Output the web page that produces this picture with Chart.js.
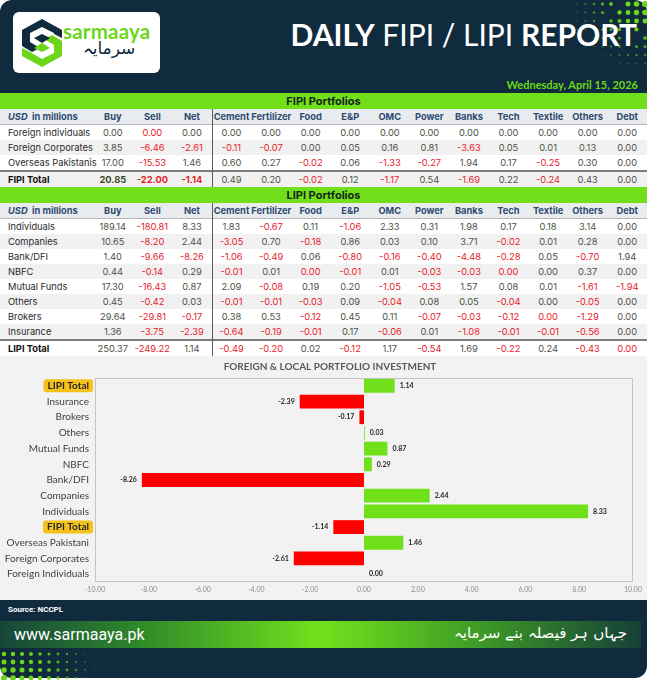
<!DOCTYPE html>
<html>
<head>
<meta charset="utf-8">
<script src="https://cdn.jsdelivr.net/npm/chart.js@4.4.1/dist/chart.umd.min.js"></script>
<style>
  html,body{margin:0;padding:0;background:#fff;}
  #wrap{position:relative;width:647px;height:680px;overflow:hidden;background:#fff;font-family:Inter,Roboto,sans-serif;}
  .abs{position:absolute;}
  #head{left:0;top:0;width:647px;height:93px;background:#0f2b3d;border-radius:12px 12px 0 0;}
  #foot{left:0;top:600px;width:647px;height:78px;background:#0f2b3d;border-radius:0 0 12px 12px;}
  .row{position:absolute;left:0;width:647px;}
  .cell{position:absolute;text-align:center;font-size:9.3px;white-space:nowrap;}
  .lbl{position:absolute;left:8px;font-size:9.3px;color:#2a2a2a;white-space:nowrap;}
  .green{position:absolute;left:0;width:647px;background:#71e01b;text-align:center;font-weight:bold;font-size:11px;color:#16251a;}
</style>
</head>
<body>
<div id="wrap">
  <div id="head" class="abs"></div>
  <svg class="abs" style="left:0;top:0" width="647" height="93" id="dots"></svg>
  <div class="abs" style="left:13px;top:12px;width:147px;height:61px;background:#fff;border-radius:6px;"></div>
  <svg class="abs" style="left:20px;top:18px" width="44" height="50" viewBox="0 0 44 50">
    <polygon points="22,1 42,12 42,20 34,16 34,15 22,9 10,15 10,24 20,30 12,34 2,28 2,12" fill="#0f2b3d"/>
    <polygon points="22,49 2,38 2,30 10,34 22,41 34,35 34,27 24,21 32,17 42,23 42,38" fill="#6cd61a"/>
    <polygon points="14,20 22,16 30,20 22,25" fill="#0f2b3d"/>
    <polygon points="14,30 22,25 30,30 22,34" fill="#6cd61a"/>
  </svg>
  <div class="abs" style="left:63px;top:19px;font-family:Lato,sans-serif;font-size:20.5px;font-weight:bold;color:#6cd61a;letter-spacing:0.2px;">sarmaaya</div>
  <div class="abs" style="left:66px;top:38px;font-family:'DejaVu Sans',sans-serif;font-size:17px;color:#0f2b3d;direction:rtl;width:86px;text-align:center;">سرمایہ</div>
  <div class="abs" style="right:10px;top:16px;font-family:Lato,sans-serif;font-size:30px;color:#fff;white-space:nowrap;"><b>DAILY</b> FIPI / LIPI <b>REPORT</b></div>
  <div class="abs" style="right:9px;top:78px;font-family:Lato,sans-serif;font-size:11px;font-weight:bold;color:#6cd61a;">Wednesday, April 15, 2026</div>

  <div id="tables"></div>

  <div class="abs" style="left:0;top:356px;width:647px;height:244px;background:#f2f2f2;"></div>
  <canvas id="c" class="abs" style="left:0;top:356px;" width="647" height="244"></canvas>

  <div id="foot" class="abs"></div>
  <div class="abs" style="left:0;top:621px;width:641px;height:27px;background:linear-gradient(90deg,#17463a 0%,#2f8a2a 22%,#72e21c 50%,#3d9a26 75%,#163f38 100%);"></div>
  <div class="abs" style="left:8px;top:605px;font-family:Roboto,sans-serif;font-size:8px;font-weight:bold;color:#fff;">Source: NCCPL</div>
  <div class="abs" style="left:14px;top:625px;font-family:Roboto,sans-serif;font-size:16px;color:#fff;">www.sarmaaya.pk</div>
  <div class="abs" style="left:480px;top:624px;width:147px;font-family:'DejaVu Sans',sans-serif;font-size:15px;color:#fff;direction:rtl;text-align:left;white-space:nowrap;">جہاں ہر فیصلہ بنے سرمایہ</div>
  <svg class="abs" style="left:0;top:650px" width="140" height="30" id="dots2"></svg>
</div>

<script>
// ---------- DATA ----------
const columns = ["Buy","Sell","Net","Cement","Fertilizer","Food","E&P","OMC","Power","Banks","Tech","Textile","Others","Debt"];

const fipiNames = ["Foreign individuals","Foreign Corporates","Overseas Pakistanis","FIPI Total"];
const fipiBuy  = [0.00, 3.85, 17.00, 20.85];
const fipiSell = [-0, -6.46, -15.53, -22.00];
const fipiNet  = [0.00, -2.61, 1.46, -1.14];
const fipiSectors = [
  [0.00, 0.00, 0.00, 0.00, 0.00, 0.00, 0.00, 0.00, 0.00, 0.00, 0.00],
  [-0.11, -0.07, 0.00, 0.05, 0.16, 0.81, -3.63, 0.05, 0.01, 0.13, 0.00],
  [0.60, 0.27, -0.02, 0.06, -1.33, -0.27, 1.94, 0.17, -0.25, 0.30, 0.00],
  [0.49, 0.20, -0.02, 0.12, -1.17, 0.54, -1.69, 0.22, -0.24, 0.43, 0.00]
];

const lipiNames = ["Individuals","Companies","Bank/DFI","NBFC","Mutual Funds","Others","Brokers","Insurance","LIPI Total"];
const lipiBuy  = [189.14, 10.65, 1.40, 0.44, 17.30, 0.45, 29.64, 1.36, 250.37];
const lipiSell = [-180.81, -8.20, -9.66, -0.14, -16.43, -0.42, -29.81, -3.75, -249.22];
const lipiNet  = [8.33, 2.44, -8.26, 0.29, 0.87, 0.03, -0.17, -2.39, 1.14];
const lipiSectors = [
  [1.83, -0.67, 0.11, -1.06, 2.33, 0.31, 1.98, 0.17, 0.18, 3.14, 0.00],
  [-3.05, 0.70, -0.18, 0.86, 0.03, 0.10, 3.71, -0.02, 0.01, 0.28, 0.00],
  [-1.06, -0.49, 0.06, -0.80, -0.16, -0.40, -4.48, -0.28, 0.05, -0.70, 1.94],
  [-0.01, 0.01, -0, -0.01, 0.01, -0.03, -0.03, -0, 0.00, 0.37, 0.00],
  [2.09, -0.08, 0.19, 0.20, -1.05, -0.53, 1.57, 0.08, 0.01, -1.61, -1.94],
  [-0.01, -0.01, -0.03, 0.09, -0.04, 0.08, 0.05, -0.04, 0.00, -0.05, 0.00],
  [0.38, 0.53, -0.12, 0.45, 0.11, -0.07, -0.03, -0.12, -0, -1.29, 0.00],
  [-0.64, -0.19, -0.01, 0.17, -0.06, 0.01, -1.08, -0.01, -0.01, -0.56, 0.00],
  [-0.49, -0.20, 0.02, -0.12, 1.17, -0.54, 1.69, -0.22, 0.24, -0.43, -0]
];

const chartCategories = ["LIPI Total","Insurance","Brokers","Others","Mutual Funds","NBFC","Bank/DFI","Companies","Individuals","FIPI Total","Overseas Pakistani","Foreign Corporates","Foreign Individuals"];
const chartNet = [1.14, -2.39, -0.17, 0.03, 0.87, 0.29, -8.26, 2.44, 8.33, -1.14, 1.46, -2.61, 0.00];
const highlightCategories = ["LIPI Total","FIPI Total"];
const xTicks = [-10, -8, -6, -4, -2, 0, 2, 4, 6, 8, 10];

// ---------- DECORATION ----------
(function(){
  const s = document.getElementById('dots'); let h='';
  for(let x=560;x<=646;x+=8.5){ for(let y=4;y<=90;y+=8.5){
    const d = Math.hypot(646-x, (y-4)*1.1);
    const r = 3.1 - d/30;
    if(r>0.4 && (x+y*0.3)%3<2.6) h += `<circle cx="${x}" cy="${y}" r="${r.toFixed(2)}" fill="#6cd61a" opacity="${Math.min(1,r/2.2).toFixed(2)}"/>`;
  }}
  s.innerHTML = h;
  const s2 = document.getElementById('dots2'); let h2='';
  for(let x=4;x<=130;x+=9){ for(let y=4;y<=30;y+=8){
    const d = Math.hypot(x, (30-y)*1.4);
    const r = 3.2 - d/38;
    if(r>0.4) h2 += `<circle cx="${x}" cy="${y}" r="${r.toFixed(2)}" fill="#6cd61a" opacity="${Math.min(1,r/2).toFixed(2)}"/>`;
  }}
  s2.innerHTML = h2;
})();

// ---------- TABLES ----------
const LABELW = 93, COLW = (647 - 93) / 14;
function isNeg(v){ return v < 0 || Object.is(v, -0); }
function fmt(v){ return Math.abs(v) < 0.005 ? "0.00" : v.toFixed(2); }

function buildSection(top, title, names, buy, sell, net, sectors, totalStyle){
  const root = document.getElementById('tables');
  let html = '';
  html += `<div class="green" style="top:${top}px;height:16px;line-height:16px;">${title}</div>`;
  let y = top + 16;
  html += `<div class="row" style="top:${y}px;height:15px;background:#e9ecef;border-bottom:1px solid #b5b9bd;"></div>`;
  html += `<div class="lbl" style="top:${y}px;line-height:15px;font-weight:bold;color:#2f4a70;"><i>USD</i>&nbsp; in millions</div>`;
  columns.forEach((c,i)=>{
    html += `<div class="cell" style="top:${y}px;line-height:15px;left:${LABELW+i*COLW}px;width:${COLW}px;font-weight:bold;color:#2f4a70;">${c.replace('&','&amp;')}</div>`;
  });
  const sepTop = y;
  y += 16;
  names.forEach((n,r)=>{
    const isTotal = r === names.length-1;
    const h = isTotal ? 16 : 15;
    const bg = isTotal ? totalStyle.bg : (r%2===0 ? '#ffffff' : '#f1f1f1');
    const border = isTotal ? 'border-top:2px solid #7d7d7d;' : '';
    html += `<div class="row" style="top:${y}px;height:${h}px;background:${bg};${border}"></div>`;
    const ty = isTotal ? y+2 : y;
    html += `<div class="lbl" style="top:${ty}px;line-height:${h}px;${isTotal?'font-weight:bold;color:#111;':''}">${n}</div>`;
    const vals = [buy[r], sell[r], net[r]].concat(sectors[r]);
    vals.forEach((v,i)=>{
      const neg = isNeg(v);
      const bold = isTotal && totalStyle.boldMain && i < 3;
      const col = neg ? '#e8202a' : (bold ? '#3c4a24' : '#4d5148');
      html += `<div class="cell" style="top:${ty}px;line-height:${h}px;left:${LABELW+i*COLW}px;width:${COLW}px;color:${col};${bold?'font-weight:bold;':''}">${fmt(v)}</div>`;
    });
    y += isTotal ? h+2 : h;
  });
  html += `<div class="abs" style="left:${LABELW+3*COLW}px;top:${sepTop}px;width:1px;height:${y-sepTop}px;background:#5a5a5a;"></div>`;
  root.insertAdjacentHTML('beforeend', html);
}
buildSection(93, 'FIPI Portfolios', fipiNames, fipiBuy, fipiSell, fipiNet, fipiSectors, {bg:'#f1f1f1', boldMain:true});
buildSection(187, 'LIPI Portfolios', lipiNames, lipiBuy, lipiSell, lipiNet, lipiSectors, {bg:'#ffffff', boldMain:false});

// ---------- CHART ----------
const GREEN = '#6fe01a', RED = '#ff0000';
const decoPlugin = {
  id: 'deco',
  beforeDraw(chart){
    const ctx = chart.ctx, ys = chart.scales.y;
    ctx.save();
    ctx.font = 'bold 10px Lato';
    chartCategories.forEach((c,i)=>{
      if(!highlightCategories.includes(c)) return;
      const py = ys.getPixelForTick(i);
      const w = ctx.measureText(c).width;
      const right = chart.chartArea.left - 6 + 4;
      ctx.fillStyle = '#f5c21b';
      ctx.beginPath();
      ctx.roundRect(right - w - 8, py - 6.5, w + 8, 13, 3);
      ctx.fill();
    });
    ctx.fillStyle = '#595959';
    ctx.font = 'bold 10px Lato';
    ctx.textAlign = 'center';
    ctx.textBaseline = 'middle';
    ctx.fillText('FOREIGN & LOCAL PORTFOLIO INVESTMENT', 330, 11);
    ctx.restore();
  },
  beforeDatasetsDraw(chart){
    const {ctx, chartArea:a} = chart;
    ctx.save();
    ctx.strokeStyle = '#c4c4c4';
    ctx.lineWidth = 1;
    ctx.strokeRect(a.left+0.5, a.top+0.5, a.right-a.left-1, a.bottom-a.top-1);
    ctx.restore();
  },
  afterDatasetsDraw(chart){
    const ctx = chart.ctx;
    const meta = chart.getDatasetMeta(0);
    ctx.save();
    ctx.font = 'bold 7px Lato';
    ctx.fillStyle = '#262626';
    ctx.textBaseline = 'middle';
    meta.data.forEach((el,i)=>{
      const v = chartNet[i];
      if(v < 0){ ctx.textAlign='right'; ctx.fillText(v.toFixed(2), el.x - 5, el.y); }
      else { ctx.textAlign='left'; ctx.fillText(v.toFixed(2), Math.max(el.x, el.base) + 5, el.y); }
    });
    ctx.restore();
  }
};

new Chart(document.getElementById('c'), {
  type: 'bar',
  data: {
    labels: chartCategories,
    datasets: [{
      data: chartNet,
      backgroundColor: chartNet.map(v => v < 0 ? RED : GREEN),
      borderWidth: 0,
      barPercentage: 0.88,
      categoryPercentage: 1.0
    }]
  },
  options: {
    indexAxis: 'y',
    responsive: false,
    animation: false,
    layout: { padding: { left: 0, right: 14, top: 22, bottom: 0 } },
    plugins: { legend: { display: false }, title: { display: false }, tooltip: { enabled: false } },
    scales: {
      x: {
        type: 'linear', min: xTicks[0], max: xTicks[xTicks.length-1],
        afterBuildTicks(s){ s.ticks = xTicks.map(v => ({value: v})); },
        ticks: { callback: v => Number(v).toFixed(2), color: '#8c8c8c', font: { family: 'Lato', size: 7 }, padding: 4, maxRotation: 0, autoSkip: false },
        grid: { display: false, drawTicks: false },
        border: { display: false },
        afterFit(s){ s.height = 18; }
      },
      y: {
        ticks: {
          color: c => highlightCategories.includes(chartCategories[c.index]) ? '#262626' : '#404040',
          font: c => ({ family: 'Lato', size: 10, weight: highlightCategories.includes(chartCategories[c.index]) ? 'bold' : 'normal' }),
          padding: 6, autoSkip: false
        },
        grid: { display: false, drawTicks: false },
        border: { display: false },
        afterFit(s){ s.width = 95; }
      }
    }
  },
  plugins: [decoPlugin]
});
</script>
</body>
</html>
